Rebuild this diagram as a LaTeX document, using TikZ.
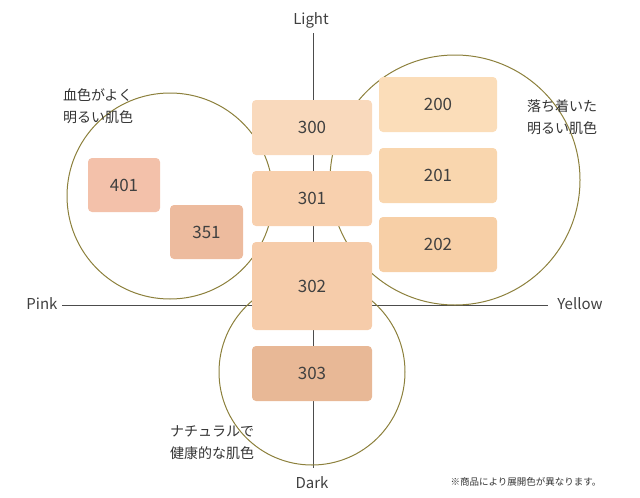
\documentclass[tikz,border=0pt]{standalone}
\usepackage{fontspec}
\setmainfont{Noto Sans CJK JP}
\begin{document}
\begin{tikzpicture}[x=1pt,y=-1pt,
  sw/.style={rounded corners=4pt,minimum width=#1},
  chip/.style={anchor=north west,inner sep=0pt,font=\fontsize{17}{17}\selectfont,text=black!75},
  circ/.style={draw={rgb,255:red,140;green,128;blue,60},line width=1pt},
  ax/.style={draw=black!70,line width=0.7pt},
  lab/.style={font=\fontsize{15}{15}\selectfont,text=black!75},
  jp/.style={font=\fontsize{14}{22}\selectfont,text=black!80,align=left}]
\useasboundingbox (0,0) rectangle (640,498);
\definecolor{c300}{HTML}{F9D9BC}\definecolor{c301}{HTML}{F8D0AE}
\definecolor{c302}{HTML}{F6CCAA}\definecolor{c303}{HTML}{E8B896}
\definecolor{c200}{HTML}{FBDDB9}\definecolor{c201}{HTML}{F9D6AE}
\definecolor{c202}{HTML}{F7CFA6}\definecolor{c401}{HTML}{F3C1AA}
\definecolor{c351}{HTML}{EDBB9E}
\coordinate (top) at (313,33); \coordinate (bot) at (313,468);
\coordinate (lft) at (62,305); \coordinate (rgt) at (548,305);
\draw[ax] (top) -- (bot); \draw[ax] (lft) -- (rgt);
\draw[circ] (170,196) circle (103);
\draw[circ] (455,180) circle (125);
\draw[circ] (312,372) circle (93);
\newcommand{\chipbox}[6]{\fill[#6,rounded corners=4pt] (#1,#2) rectangle (#3,#4);
  \node[font=\fontsize{17}{17}\selectfont,text=black!75] (n#5) at ({(#1+#3)/2},{(#2+#4)/2}) {#5};}
\chipbox{252}{100}{372}{155}{300}{c300}
\chipbox{252}{171}{372}{226}{301}{c301}
\chipbox{252}{242}{372}{330}{302}{c302}
\chipbox{252}{346}{372}{401}{303}{c303}
\chipbox{379}{77}{497}{132}{200}{c200}
\chipbox{379}{148}{497}{203}{201}{c201}
\chipbox{379}{217}{497}{272}{202}{c202}
\chipbox{88}{158}{160}{212}{401}{c401}
\chipbox{170}{205}{243}{259}{351}{c351}
\node[lab] (light) at (311,20) {Light};
\node[lab] (dark) at (312,483) {Dark};
\node[lab] (pink) at (42,304) {Pink};
\node[lab] (yellow) at (580,304) {Yellow};
\node[jp] (t1) at (98,106) {血色がよく\\明るい肌色};
\node[jp] (t2) at (562,117) {落ち着いた\\明るい肌色};
\node[jp] (t3) at (212,443) {ナチュラルで\\健康的な肌色};
\node[font=\fontsize{9.5}{10}\selectfont,text=black!80] (note) at (526,482) {※商品により展開色が異なります。};
\end{tikzpicture}
\end{document}
